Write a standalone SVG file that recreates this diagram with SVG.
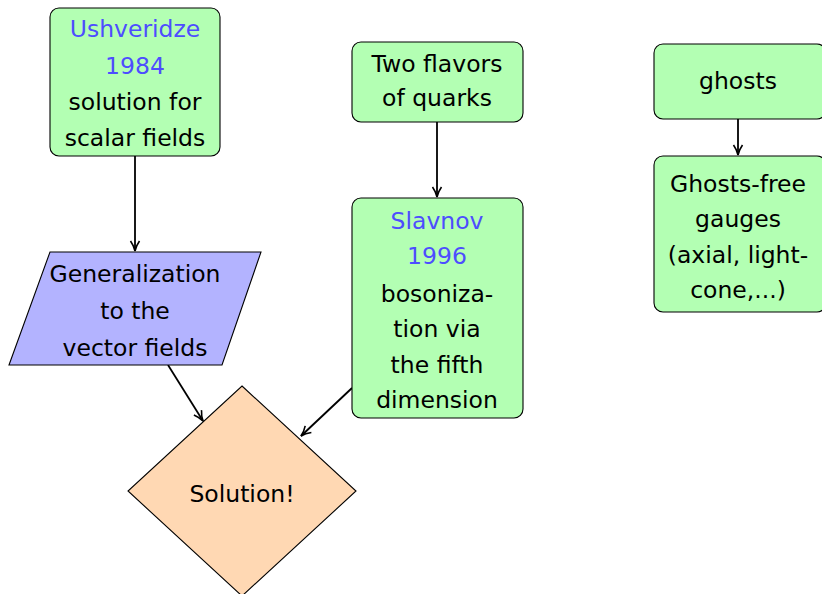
<svg xmlns="http://www.w3.org/2000/svg" width="822" height="594" viewBox="0 0 822 594">
<style>
.box{fill:#b3ffb3;stroke:#000;stroke-width:1.1}
.par{fill:#b3b3ff;stroke:#000;stroke-width:1.1}
.dia{fill:#ffd8b3;stroke:#000;stroke-width:1.1}
text{font-family:"DejaVu Sans","Liberation Sans",sans-serif;font-size:23.5px;fill:#000;text-anchor:middle}
.hl{fill:#4d4dff}
.edge{stroke:#000;stroke-width:1.8;fill:none;marker-end:url(#arr)}
</style>
<defs>
<marker id="arr" viewBox="0 0 12 12" refX="11" refY="6" markerWidth="12" markerHeight="12" markerUnits="userSpaceOnUse" orient="auto">
<path d="M1,1.5 Q6,5 11,6 Q6,7 1,10.5" fill="none" stroke="#000" stroke-width="1.6"/>
</marker>
</defs>
<g id="connectors">
<line class="edge" x1="135" y1="156" x2="135" y2="251"/>
<line class="edge" x1="168" y1="365" x2="203" y2="421"/>
<line class="edge" x1="437" y1="122" x2="437" y2="197"/>
<line class="edge" x1="352" y1="388" x2="301" y2="436"/>
<line class="edge" x1="738" y1="119" x2="738" y2="155"/>
</g>
<g id="ushveridze">
<rect class="box" x="50" y="8" width="170" height="148" rx="9"/>
<text x="135" y="37" class="hl">Ushveridze</text>
<text x="135" y="74" class="hl">1984</text>
<text x="135" y="110">solution for</text>
<text x="135" y="146">scalar fields</text>
</g>
<g id="generalization">
<polygon class="par" points="50,252 261,252 222,365 9,365"/>
<text x="135" y="282">Generalization</text>
<text x="135" y="319">to the</text>
<text x="135" y="356">vector fields</text>
</g>
<g id="solution">
<polygon class="dia" points="242,386 356,491 242,596 128,491"/>
<text x="242" y="502">Solution!</text>
</g>
<g id="twoflavors">
<rect class="box" x="352" y="42" width="171" height="80" rx="9"/>
<text x="437" y="72">Two flavors</text>
<text x="437" y="106">of quarks</text>
</g>
<g id="slavnov">
<rect class="box" x="352" y="198" width="171" height="220" rx="9"/>
<text x="437" y="229" class="hl">Slavnov</text>
<text x="437" y="264" class="hl">1996</text>
<text x="437" y="302">bosoniza-</text>
<text x="437" y="337">tion via</text>
<text x="437" y="373">the fifth</text>
<text x="437" y="408">dimension</text>
</g>
<g id="ghosts">
<rect class="box" x="654" y="44" width="172" height="75" rx="9"/>
<text x="738" y="89">ghosts</text>
</g>
<g id="ghostsfree">
<rect class="box" x="654" y="156" width="172" height="156" rx="9"/>
<text x="738" y="192">Ghosts-free</text>
<text x="738" y="227">gauges</text>
<text x="738" y="263">(axial, light-</text>
<text x="738" y="298">cone,...)</text>
</g>
</svg>
